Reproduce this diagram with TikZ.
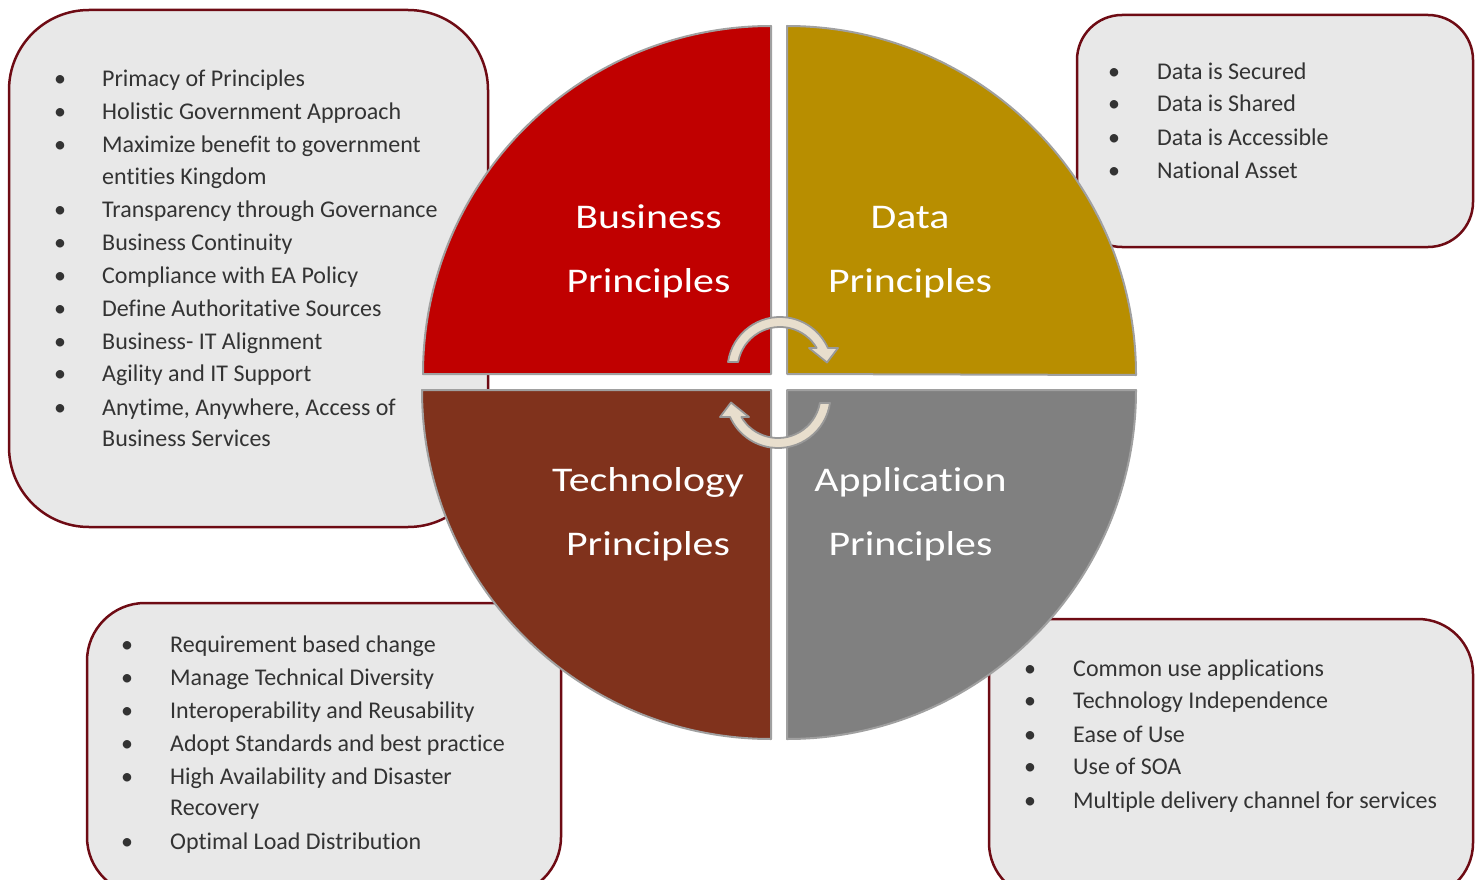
\documentclass[tikz,border=0pt]{standalone}
\usepackage{fontspec}
\setmainfont{Carlito}[Ligatures=NoCommon]
\definecolor{boxfill}{HTML}{E8E8E8}
\definecolor{boxline}{HTML}{6E0B14}
\definecolor{bizred}{HTML}{C00000}
\definecolor{datagold}{HTML}{B88E00}
\definecolor{techbrown}{HTML}{80321C}
\definecolor{appgray}{HTML}{808080}
\definecolor{rimgray}{HTML}{A0A0A0}
\definecolor{cycfill}{HTML}{E8DECD}
\definecolor{cycline}{HTML}{999999}
\definecolor{listtext}{HTML}{333333}

\begin{document}
\begin{tikzpicture}[x=1pt,y=-1pt,
  infobox/.style={fill=boxfill,draw=boxline,line width=2.5pt},
  quadrant/.style={draw=rimgray,line width=2pt,line join=round},
  cyclearrow/.style={fill=cycfill,draw=cycline,line width=1.8pt,line join=round},
  heading/.style={text=white,font=\fontsize{34.6}{40}\selectfont,anchor=base,inner sep=0pt},
  dotmark/.style={text=listtext,font=\fontsize{24}{29}\selectfont,anchor=base,inner sep=0pt},
  itemtext/.style={text=listtext,font=\fontsize{24}{29}\selectfont,anchor=base west,inner sep=0pt}]

\useasboundingbox (0,0) rectangle (1480,880);
\clip (0,0) rectangle (1480,880);

% list panels behind the wheel
\draw[infobox,rounded corners=80pt] (9,10) rectangle (488,527);
\draw[infobox,rounded corners=45pt] (1077,15) rectangle (1473,247);
\draw[infobox,rounded corners=58pt] (87,603) rectangle (561,895);
\draw[infobox,rounded corners=55pt] (989,619) rectangle (1473,898);

% the four quarter discs
\fill[bizred] (771,374) -- (423,374) arc[start angle=180,end angle=270,radius=348] -- cycle;
\draw[quadrant] (771,374) -- (423,374) arc[start angle=180,end angle=270,radius=348] -- cycle;
\fill[datagold] (787,374) -- (787,26) arc[start angle=270,end angle=360,radius=349] -- cycle;
\draw[quadrant] (787,374) -- (787,26) arc[start angle=270,end angle=360,radius=349] -- cycle;
\fill[techbrown] (771,390) -- (771,739) arc[start angle=90,end angle=180,radius=349] -- cycle;
\draw[quadrant] (771,390) -- (771,739) arc[start angle=90,end angle=180,radius=349] -- cycle;
\fill[appgray] (787,390) -- (1136,390) arc[start angle=0,end angle=90,radius=349] -- cycle;
\draw[quadrant] (787,390) -- (1136,390) arc[start angle=0,end angle=90,radius=349] -- cycle;

% circular arrows in the middle
\coordinate (cycA) at (780,369.5);
\coordinate (cycB) at (778,395.5);
\draw[cyclearrow] ([shift={(188.2:52.5)}]cycA) arc[start angle=188.2,end angle=335.8,radius=52.5]
  -- ([shift={(58,-21.5)}]cycA) -- ([shift={(47,-7)}]cycA) -- ([shift={(29,-21.5)}]cycA)
  -- ([shift={(329.6:42.5)}]cycA) arc[start angle=329.6,end angle=190.2,radius=42.5] -- cycle;
\draw[cyclearrow] ([shift={(8.2:52.5)}]cycB) arc[start angle=8.2,end angle=155.8,radius=52.5]
  -- ([shift={(-58,21.5)}]cycB) -- ([shift={(-47,7)}]cycB) -- ([shift={(-29,21.5)}]cycB)
  -- ([shift={(149.6:42.5)}]cycB) arc[start angle=149.6,end angle=10.2,radius=42.5] -- cycle;

% quadrant titles
\node[heading] (bizA) at (648.5,228) {\scalebox{1.21}[1]{Business}};
\node[heading] (bizB) at (648.5,292) {\scalebox{1.21}[1]{Principles}};
\node[heading] (datA) at (910,228) {\scalebox{1.21}[1]{Data}};
\node[heading] (datB) at (910,292) {\scalebox{1.21}[1]{Principles}};
\node[heading] (tecA) at (648,491) {\scalebox{1.21}[1]{Technology}};
\node[heading] (tecB) at (648,555) {\scalebox{1.21}[1]{Principles}};
\node[heading] (appA) at (910.5,491) {\scalebox{1.21}[1]{Application}};
\node[heading] (appB) at (910.5,555) {\scalebox{1.21}[1]{Principles}};

% business list
\foreach \t/\y [count=\i] in {Primacy of Principles/87, Holistic Government Approach/120,
    Maximize benefit to government/153, entities Kingdom/184,
    Transparency through Governance/217, Business Continuity/250,
    Compliance with EA Policy/283, Define Authoritative Sources/316,
    Business- IT Alignment/349, Agility and IT Support/381,
    {Anytime, Anywhere, Access of}/415, Business Services/446}
  \node[itemtext] (bl\i) at (102,\y) {\t};
\foreach \y [count=\i] in {87,120,153,217,250,283,316,349,381,415}
  \node[dotmark] (bd\i) at (60,\y) {•};

% data list
\foreach \t/\y [count=\i] in {Data is Secured/80, Data is Shared/112,
    Data is Accessible/146, National Asset/178}
  \node[itemtext] (dl\i) at (1157,\y) {\t};
\foreach \y [count=\i] in {80,112,146,178}
  \node[dotmark] (dd\i) at (1114,\y) {•};

% technology list
\foreach \t/\y [count=\i] in {Requirement based change/652, Manage Technical Diversity/685,
    Interoperability and Reusability/718, Adopt Standards and best practice/751,
    High Availability and Disaster/784, Recovery/815, Optimal Load Distribution/849}
  \node[itemtext] (tl\i) at (170,\y) {\t};
\foreach \y [count=\i] in {652,685,718,751,784,849}
  \node[dotmark] (td\i) at (127,\y) {•};

% application list
\foreach \t/\y [count=\i] in {Common use applications/676, Technology Independence/708,
    Ease of Use/742, Use of SOA/774, Multiple delivery channel for services/808}
  \node[itemtext] (al\i) at (1073,\y) {\t};
\foreach \y [count=\i] in {676,708,742,774,808}
  \node[dotmark] (ad\i) at (1030,\y) {•};

\end{tikzpicture}
\end{document}
